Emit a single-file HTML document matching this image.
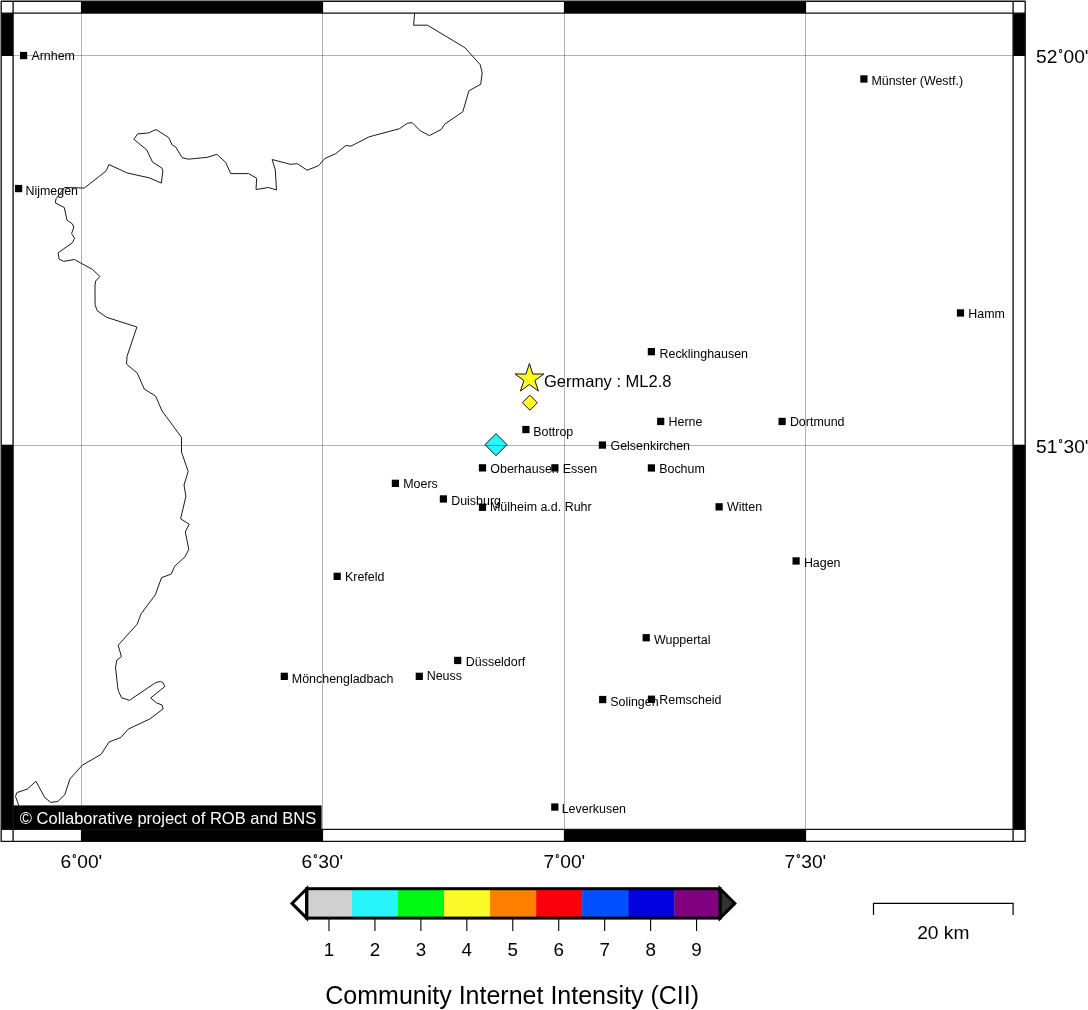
<!DOCTYPE html>
<html><head><meta charset="utf-8"><title>Community Internet Intensity map</title>
<style>html,body{margin:0;padding:0;background:#fff}body{width:1088px;height:1010px;overflow:hidden}svg{display:block}text{font-family:"Liberation Sans",sans-serif;fill:#000}</style>
</head><body>
<svg width="1088" height="1010" viewBox="0 0 1088 1010">
<rect width="1088" height="1010" fill="#fff"/>
<polyline points="414.6,13 413.6,25.2 427.5,25.2 464.9,47.7 480.2,64.7 482.2,73.0 480.7,84.3 468.9,90.8 462.8,111.8 444.7,124.1 441.4,129.3 429.5,135.6 420.4,130.9 412.1,122.6 407.2,123.3 399.5,128.7 369.2,136.8 351,146.1 345.9,145.5 335.8,153.6 324.7,158.6 318.6,165.7 307.1,170.2 297.4,163.7 290.3,164.3 272.1,159.5 275.3,170 276.5,190 268.5,187.5 256,189.5 256.7,178.2 248.6,173.6 230.7,173.6 225.7,162.4 216.9,154.3 207.3,157.3 188.2,159.2 182,157.6 175.6,146.8 172.1,144.9 168.7,137.6 156,129.5 148.5,133 137.7,133.9 133.8,139.2 146.8,150 152.6,162.2 161.8,167.9 162.9,170.9 161.3,183.1 149.1,177.8 127.3,173 108.9,164.5 106.2,170.9 84.4,188 64.6,187.5 56,198.8 55.3,202.9 64.3,207.5 67,220.2 72.3,223.8 73.8,227.2 71.6,233.6 74.6,238.2 72.4,242.7 58.1,252.8 59.1,259.2 63.7,261.4 74.3,259.5 92.3,269.3 99.9,276.4 95.6,281.1 95,286.1 95.1,304.7 97,310.5 106.6,317.3 136.9,327 127.1,356.2 126.5,364.1 137.2,373 144.3,389 155.7,396.2 162,410.9 181.5,437.3 181.5,452.1 188.2,471.5 184,485 185.9,496.4 180.6,518.8 189.3,524.2 185.3,531.9 188.8,549.4 185.1,556.7 174.7,566.3 171.3,574 161.5,577.7 155.3,594.9 141,613.9 137.2,624.1 118.2,645.2 121.4,656.7 116.9,660.1 115.5,667.1 117.7,687.3 118.6,691.5 121.6,697.8 129.5,700.3 155.6,682.6 160.6,681.4 163.2,683.1 164.9,686.5 150.7,697.9 156.4,702.8 162,705 163.2,708.9 149.7,719 128.3,729.1 120.8,737.5 109,742 101.2,754.3 82.3,765.2 69.9,779 64.7,794.9 57.8,801.4 50.9,802.5 44.9,797.7 35.9,781.3 27.5,789 16.9,792.6 15.5,796.3 18.7,805.5" fill="none" stroke="#1a1a1a" stroke-width="1" stroke-linejoin="round"/>
<g fill="#000">
<rect x="20.0" y="51.9" width="7.2" height="7.3"/>
<rect x="15.0" y="184.9" width="7.2" height="7.3"/>
<rect x="860.3" y="75.3" width="7.2" height="7.3"/>
<rect x="956.9" y="309.3" width="7.2" height="7.3"/>
<rect x="647.8" y="348.0" width="7.2" height="7.3"/>
<rect x="657.1" y="417.8" width="7.2" height="7.3"/>
<rect x="778.5" y="417.8" width="7.2" height="7.3"/>
<rect x="522.3" y="425.9" width="7.2" height="7.3"/>
<rect x="598.8" y="441.4" width="7.2" height="7.3"/>
<rect x="478.9" y="464.2" width="7.2" height="7.3"/>
<rect x="551.3" y="464.2" width="7.2" height="7.3"/>
<rect x="647.8" y="464.3" width="7.2" height="7.3"/>
<rect x="391.8" y="479.7" width="7.2" height="7.3"/>
<rect x="439.8" y="495.3" width="7.2" height="7.3"/>
<rect x="478.9" y="503.6" width="7.2" height="7.3"/>
<rect x="715.5" y="503.2" width="7.2" height="7.3"/>
<rect x="792.5" y="557.3" width="7.2" height="7.3"/>
<rect x="333.6" y="572.7" width="7.2" height="7.3"/>
<rect x="642.6" y="634.1" width="7.2" height="7.3"/>
<rect x="454.1" y="656.8" width="7.2" height="7.3"/>
<rect x="280.7" y="672.7" width="7.2" height="7.3"/>
<rect x="415.7" y="672.7" width="7.2" height="7.3"/>
<rect x="599.1" y="695.9" width="7.2" height="7.3"/>
<rect x="647.9" y="695.6" width="7.2" height="7.3"/>
<rect x="551.2" y="803.4" width="7.2" height="7.3"/>
</g>
<g font-size="12.45">
<text x="31.4" y="60.1">Arnhem</text>
<text x="25.5" y="194.7">Nijmegen</text>
<text x="871.4" y="84.5">Münster (Westf.)</text>
<text x="968.3" y="318.3">Hamm</text>
<text x="659.5" y="357.8">Recklinghausen</text>
<text x="668.5" y="426.0">Herne</text>
<text x="789.9" y="426.0">Dortmund</text>
<text x="533.2" y="435.9">Bottrop</text>
<text x="610.5" y="450.1">Gelsenkirchen</text>
<text x="490.3" y="473.4">Oberhausen</text>
<text x="562.7" y="473.4">Essen</text>
<text x="659.2" y="473.0">Bochum</text>
<text x="403.2" y="487.9">Moers</text>
<text x="451.2" y="504.5">Duisburg</text>
<text x="490.0" y="511.0">Mülheim a.d. Ruhr</text>
<text x="726.9" y="511.4">Witten</text>
<text x="803.9" y="567.2">Hagen</text>
<text x="345.0" y="580.9">Krefeld</text>
<text x="654.0" y="643.7">Wuppertal</text>
<text x="465.8" y="665.7">Düsseldorf</text>
<text x="291.8" y="683.0">Mönchengladbach</text>
<text x="426.7" y="680.4">Neuss</text>
<text x="610.2" y="706.3">Solingen</text>
<text x="659.3" y="704.2">Remscheid</text>
<text x="561.7" y="812.5">Leverkusen</text>
</g>
<polygon points="485.0,444.65 496.0,433.65 507.0,444.65 496.0,455.65" fill="#28f5fa" stroke="#111" stroke-width="1"/>
<polygon points="522.4,402.7 529.9,395.2 537.4,402.7 529.9,410.2" fill="#ffff28" stroke="#111" stroke-width="1"/>
<polygon points="529.40,363.50 532.81,374.00 543.86,374.00 534.92,380.49 538.33,391.00 529.40,384.51 520.47,391.00 523.88,380.49 514.94,374.00 525.99,374.00" fill="#ffff1e" stroke="#111" stroke-width="1"/>
<text x="544.0" y="387.2" font-size="16.5">Germany : ML2.8</text>
<g stroke="#000" stroke-opacity="0.3" stroke-width="1" shape-rendering="crispEdges">
<line x1="81.5" y1="13.1" x2="81.5" y2="829.4"/>
<line x1="322.5" y1="13.1" x2="322.5" y2="829.4"/>
<line x1="564.5" y1="13.1" x2="564.5" y2="829.4"/>
<line x1="805.5" y1="13.1" x2="805.5" y2="829.4"/>
<line x1="13.1" y1="55.5" x2="1013.1" y2="55.5"/>
<line x1="13.1" y1="445.5" x2="1013.1" y2="445.5"/>
</g>
<rect x="13.1" y="805.4" width="308.5" height="24.0" fill="#000"/>
<text x="19.8" y="823.9" font-size="16.5" style="fill:#fff">© Collaborative project of ROB and BNS</text>
<g fill="#000">
<rect x="80.9" y="1.2" width="242.20000000000002" height="11.9"/>
<rect x="80.9" y="829.4" width="242.20000000000002" height="12.0"/>
<rect x="563.9" y="1.2" width="242.20000000000005" height="11.9"/>
<rect x="563.9" y="829.4" width="242.20000000000005" height="12.0"/>
<rect x="1.2" y="13.1" width="11.9" height="42.9"/>
<rect x="1013.1" y="13.1" width="12.100000000000023" height="42.9"/>
<rect x="1.2" y="444.7" width="11.9" height="384.7"/>
<rect x="1013.1" y="444.7" width="12.100000000000023" height="384.7"/>
</g>
<g fill="none" stroke="#111" stroke-width="1.35" stroke-linejoin="round">
<rect x="1.2" y="1.2" width="1024.0" height="840.1999999999999"/>
<rect x="13.1" y="13.1" width="1000.0" height="816.3"/>
<path d="M13.1 1.2V13.1M1.2 13.1H13.1M1013.1 1.2V13.1M1013.1 13.1H1025.2M1.2 829.4H13.1M13.1 829.4V841.4M1013.1 829.4V841.4M1013.1 829.4H1025.2"/>
</g>
<text x="81.4" y="868.4" font-size="19.2" text-anchor="middle">6<tspan font-size="10.4" dx="1.1" dy="-6.2" stroke="#000" stroke-width="0.35">°</tspan><tspan dx="0.8" dy="6.2">00'</tspan></text>
<text x="322.4" y="868.4" font-size="19.2" text-anchor="middle">6<tspan font-size="10.4" dx="1.1" dy="-6.2" stroke="#000" stroke-width="0.35">°</tspan><tspan dx="0.8" dy="6.2">30'</tspan></text>
<text x="564.4" y="868.4" font-size="19.2" text-anchor="middle">7<tspan font-size="10.4" dx="1.1" dy="-6.2" stroke="#000" stroke-width="0.35">°</tspan><tspan dx="0.8" dy="6.2">00'</tspan></text>
<text x="805.4" y="868.4" font-size="19.2" text-anchor="middle">7<tspan font-size="10.4" dx="1.1" dy="-6.2" stroke="#000" stroke-width="0.35">°</tspan><tspan dx="0.8" dy="6.2">30'</tspan></text>
<text x="1036.1" y="63.4" font-size="19.2" text-anchor="start">52<tspan font-size="10.4" dx="1.1" dy="-6.2" stroke="#000" stroke-width="0.35">°</tspan><tspan dx="0.8" dy="6.2">00'</tspan></text>
<text x="1036.1" y="453.4" font-size="19.2" text-anchor="start">51<tspan font-size="10.4" dx="1.1" dy="-6.2" stroke="#000" stroke-width="0.35">°</tspan><tspan dx="0.8" dy="6.2">30'</tspan></text>
<rect x="305.90" y="888.7" width="46.35" height="29.399999999999977" fill="#d0d0d0"/>
<rect x="351.95" y="888.7" width="46.35" height="29.399999999999977" fill="#28f5fa"/>
<rect x="398.00" y="888.7" width="46.35" height="29.399999999999977" fill="#00fa14"/>
<rect x="444.05" y="888.7" width="46.35" height="29.399999999999977" fill="#fafa28"/>
<rect x="490.10" y="888.7" width="46.35" height="29.399999999999977" fill="#ff8000"/>
<rect x="536.15" y="888.7" width="46.35" height="29.399999999999977" fill="#fa000a"/>
<rect x="582.20" y="888.7" width="46.35" height="29.399999999999977" fill="#0050ff"/>
<rect x="628.25" y="888.7" width="46.35" height="29.399999999999977" fill="#0000e1"/>
<rect x="674.30" y="888.7" width="46.35" height="29.399999999999977" fill="#800080"/>
<polygon points="306.7,888.7 292.0,903.4000000000001 306.7,918.1" fill="#fff" stroke="#000" stroke-width="3" stroke-linejoin="miter"/>
<polygon points="720.1,888.7 734.8000000000001,903.4000000000001 720.1,918.1" fill="#333" stroke="#000" stroke-width="3" stroke-linejoin="miter"/>
<rect x="306.7" y="888.7" width="413.40000000000003" height="29.399999999999977" fill="none" stroke="#000" stroke-width="3"/>
<g stroke="#000" stroke-width="1.1">
<line x1="328.98" y1="918.1" x2="328.98" y2="931"/>
<line x1="374.93" y1="918.1" x2="374.93" y2="931"/>
<line x1="420.88" y1="918.1" x2="420.88" y2="931"/>
<line x1="466.83" y1="918.1" x2="466.83" y2="931"/>
<line x1="512.77" y1="918.1" x2="512.77" y2="931"/>
<line x1="558.73" y1="918.1" x2="558.73" y2="931"/>
<line x1="604.67" y1="918.1" x2="604.67" y2="931"/>
<line x1="650.62" y1="918.1" x2="650.62" y2="931"/>
<line x1="696.58" y1="918.1" x2="696.58" y2="931"/>
</g>
<g font-size="18.8" text-anchor="middle">
<text x="328.98" y="955.8">1</text>
<text x="374.93" y="955.8">2</text>
<text x="420.88" y="955.8">3</text>
<text x="466.83" y="955.8">4</text>
<text x="512.77" y="955.8">5</text>
<text x="558.73" y="955.8">6</text>
<text x="604.67" y="955.8">7</text>
<text x="650.62" y="955.8">8</text>
<text x="696.58" y="955.8">9</text>
</g>
<text x="325.3" y="1004.1" font-size="25.0">Community Internet Intensity (CII)</text>
<path d="M873.5 915V903.4H1013.1V915" fill="none" stroke="#000" stroke-width="1.2"/>
<text x="943.3" y="939.0" font-size="19.2" text-anchor="middle">20 km</text>
</svg>
</body></html>
